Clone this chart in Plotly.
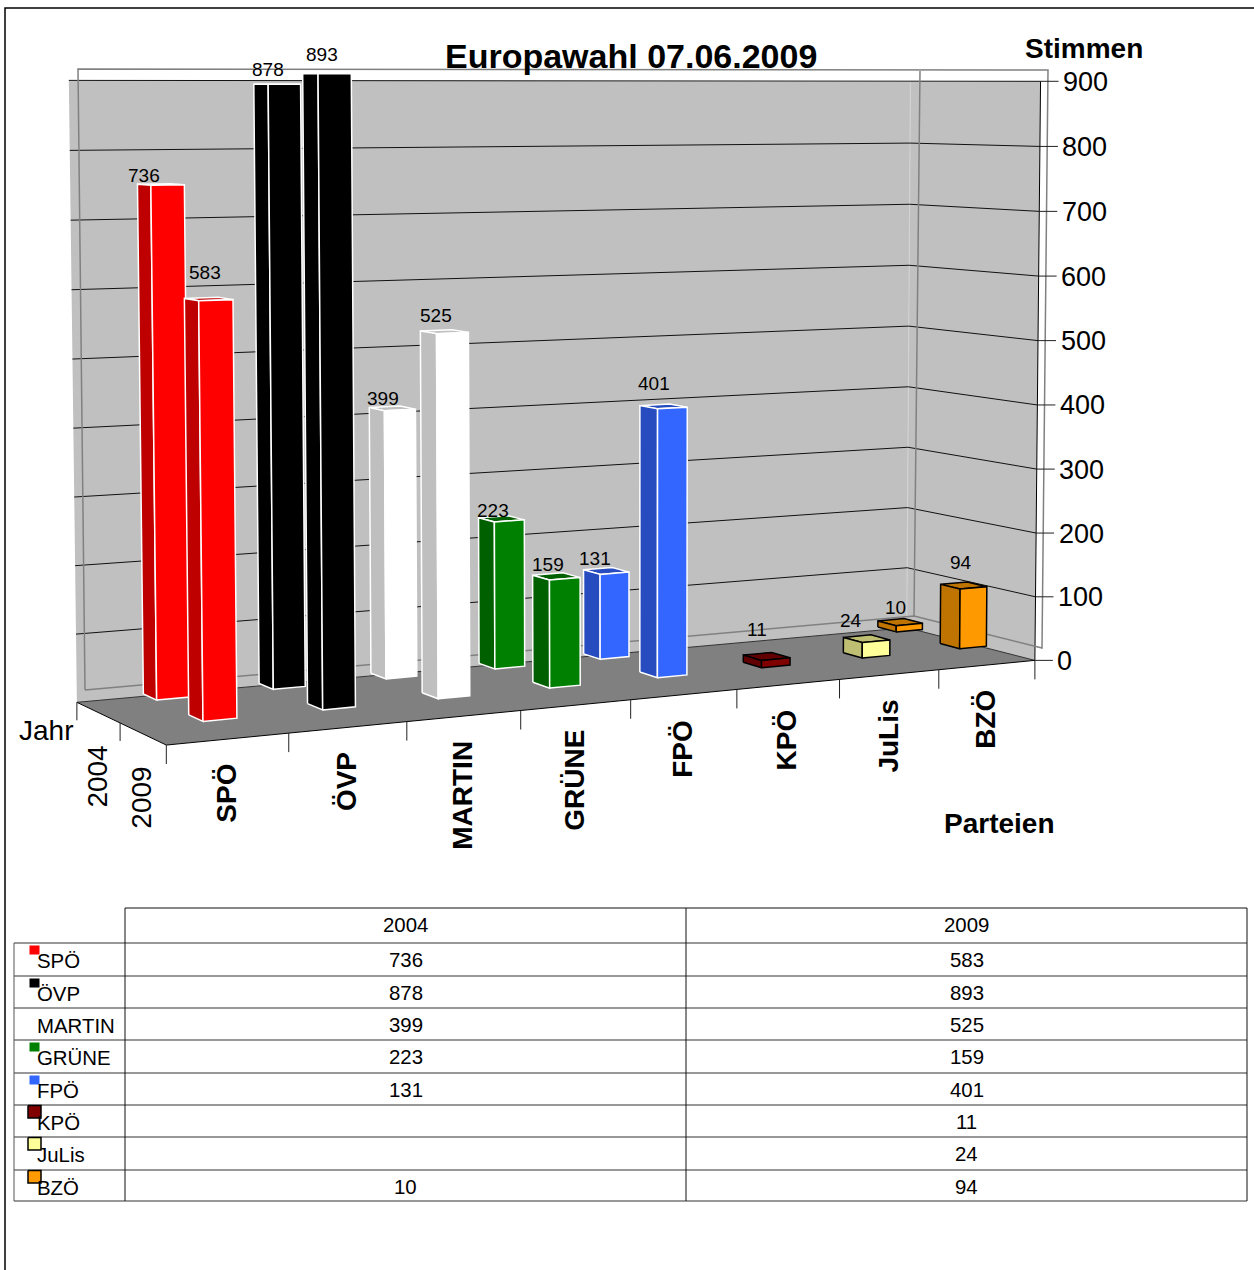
import numpy as np
import plotly.graph_objects as go

# ---- data ----
PARTIES = ["SPÖ", "ÖVP", "MARTIN", "GRÜNE", "FPÖ", "KPÖ", "JuLis", "BZÖ"]
YEARS = ["2004", "2009"]
VOTES_2004 = [736, 878, 399, 223, 131, None, None, 10]
VOTES_2009 = [583, 893, 525, 159, 401, 11, 24, 94]
VALUE_TICKS = [0, 100, 200, 300, 400, 500, 600, 700, 800, 900]
FRONT_COLORS = ["#FF0000", "#000000", "#FFFFFF", "#008000", "#3366FF", "#800000", "#FFFF99", "#FF9900"]
SIDE_COLORS = ["#BF0000", "#000000", "#BFBFBF", "#006000", "#264CBF", "#600000", "#BFBF73", "#BF7300"]
EDGE_COLORS = ["#FFFFFF"] * 5 + ["#000000"] * 3

TITLE = "Europawahl 07.06.2009"
FONT = "Liberation Sans"

# ---- projection of the chart box on the page (perspective camera) ----
CALIB_WORLD = [(0, 0, 0), (0, 0, 900), (8, 0, 0), (8, 0, 900), (0, 2, 0), (8, 2, 0), (8, 2, 900),
               (1, 2, 0), (2, 2, 0), (3, 2, 0), (4, 2, 0), (5, 2, 0), (6, 2, 0), (7, 2, 0),
               (0, 0, 800), (0, 0, 600), (0, 0, 400), (0, 0, 200), (8, 0, 600), (8, 0, 100), (8, 2, 500)]
CALIB_PAGE = [(77, 703), (69, 81), (908, 627), (911, 82), (167, 745), (1035, 660), (1041, 81),
              (289, 733), (407, 722), (520, 711), (631, 700), (737, 689.5), (839, 679.5), (938, 670),
              (70, 150), (71, 290), (73, 427), (75, 565), (908, 266), (907, 568), (1038, 340)]
A, b = [], []
for (X, Y, Z), (u, v) in zip(CALIB_WORLD, CALIB_PAGE):
    w = [X, Y, Z / 100.0, 1.0]
    A.append(w + [0, 0, 0, 0] + [-u * c for c in w[:3]])
    b.append(u)
    A.append([0, 0, 0, 0] + w + [-v * c for c in w[:3]])
    b.append(v)
P = np.linalg.lstsq(np.array(A, float), np.array(b, float), rcond=None)[0]
P = np.append(P, 1.0).reshape(3, 4)


def proj(X, Y, Z):
    h = P @ np.array([X, Y, Z / 100.0, 1.0])
    return float(h[0] / h[2]), float(h[1] / h[2])


# bars sit a little off the floor grid on the page
BAR_SHIFT = (9.0, -11.5)


def bar_proj(X, Y, Z):
    x, y = proj(X, Y, Z)
    return x + BAR_SHIFT[0], y + BAR_SHIFT[1]


fig = go.Figure()


def poly(points, fill=None, line="#000000", width=1.0):
    xs = [p[0] for p in points]
    ys = [p[1] for p in points]
    kw = {}
    if fill:
        kw = dict(fill="toself", fillcolor=fill)
        xs.append(xs[0])
        ys.append(ys[0])
    fig.add_trace(go.Scatter(x=xs, y=ys, mode="lines", hoverinfo="skip", showlegend=False,
                             line=dict(color=line if line else "rgba(0,0,0,0)", width=width), **kw))


def text(x, y, s, size, bold=False, angle=0, xa="center", ya="middle", color="#000000"):
    fig.add_annotation(x=x, y=y, xref="x", yref="y", text=f"<b>{s}</b>" if bold else s, showarrow=False,
                       textangle=angle, xanchor=xa, yanchor=ya, borderpad=0,
                       font=dict(family=FONT, size=size, color=color))


# walls and floor
poly([proj(0, 0, 0), proj(0, 0, 900), proj(8, 0, 900), proj(8, 0, 0)], fill="#C0C0C0", line=None)
poly([proj(8, 0, 0), proj(8, 0, 900), proj(8, 2, 900), proj(8, 2, 0)], fill="#C0C0C0", line=None)
poly([proj(8, 0, 0), proj(8, 0, 900)], line="#D4D4D4", width=1.0)
poly([proj(0, 0, 0), proj(8, 0, 0), proj(8, 2, 0), proj(0, 2, 0)], fill="#808080", line=None)

# gridlines
for z in VALUE_TICKS:
    poly([proj(0, 0, z), proj(8, 0, z), proj(8, 2, z)], width=1.0, line="#111111" if z else "#333333")
poly([proj(8, 2, 900), proj(8, 2, 0)], width=1.0)
poly([proj(0, 2, 0), proj(8, 2, 0)], width=1.0)
poly([proj(0, 0, 0), proj(0, 2, 0)], width=1.0)

# grey frame lying over the walls
FRAME_TOP = [(85, 690), (78, 69), (1048, 70), (1042, 648), (914, 616), (85, 690)]
FRAME_MID = [(920, 71), (914, 616)]
poly(FRAME_TOP, line="#808080", width=1.5)
poly(FRAME_MID, line="#808080", width=1.5)

# axis ticks
for i in range(len(PARTIES) + 1):
    x, y = proj(i, 2, 0)
    poly([(x, y), (x, y + 19)], line="#222222", width=1.0)
for d in range(len(YEARS)):
    x, y = proj(0, d, 0)
    poly([(x, y), (x, y + 18)], line="#222222", width=1.0)
for z in VALUE_TICKS:
    x, y = proj(8, 2, z)
    poly([(x, y), (x + 18, y)], line="#222222", width=1.0)
    text(x + 21.5, y + 0.5, str(z), 27, xa="left")

# bars
BAR_W = 0.28
BAR_D = 0.30
LABEL_BASE = (-8, -15)
LABEL_NUDGE = {
    (0, 0): (-9, 6.5), (0, 1): (-1, 0), (0, 2): (-1, 5.5), (0, 3): (0, 6.5), (0, 4): (-3, 2.5), (0, 7): (3, 0),
    (1, 0): (4, -11.5), (1, 1): (3, -4.5), (1, 2): (0, -1.5), (1, 3): (0, 3.5), (1, 4): (-2, -7.5),
    (1, 5): (-2, -11.5), (1, 6): (-8, -3.5), (1, 7): (5, -8.5),
}
for d, series in enumerate([VOTES_2004, VOTES_2009]):
    for i, val in enumerate(series):
        if val is None:
            continue
        x0, x1 = i + 0.5 - BAR_W / 2, i + 0.5 + BAR_W / 2
        y0, y1 = d + 0.5 - BAR_D / 2, d + 0.5 + BAR_D / 2
        edge = EDGE_COLORS[i]
        poly([bar_proj(x0, y0, val), bar_proj(x1, y0, val), bar_proj(x1, y1, val), bar_proj(x0, y1, val)],
             fill=SIDE_COLORS[i], line=edge, width=1.5)
        poly([bar_proj(x0, y0, 0), bar_proj(x0, y0, val), bar_proj(x0, y1, val), bar_proj(x0, y1, 0)],
             fill=SIDE_COLORS[i], line=edge, width=1.5)
        poly([bar_proj(x0, y1, 0), bar_proj(x0, y1, val), bar_proj(x1, y1, val), bar_proj(x1, y1, 0)],
             fill=FRONT_COLORS[i], line=edge, width=1.5)
        lx, ly = bar_proj(i + 0.5, d + 0.5, val)
        nx, ny = LABEL_NUDGE[(d, i)]
        text(lx + LABEL_BASE[0] + nx, ly + LABEL_BASE[1] + ny, str(val), 19)

# axis labels
for i, name in enumerate(PARTIES):
    x, y = proj(i + 0.5, 2, 0)
    text(x - 2, y + 24, name, 28, bold=True, angle=-90, ya="top")
for d, yr in enumerate(YEARS):
    x, y = proj(0, d + 0.5, 0)
    text(x - 1, y + 32, yr, 28, angle=-90, ya="top")
text(45.5, 730, "Jahr", 28)
text(999.5, 823, "Parteien", 28, bold=True)
text(1084, 48, "Stimmen", 28, bold=True)
text(630.5, 56, TITLE, 34, bold=True)

# page border
poly([(5, 1270), (5, 8), (1254, 8)], width=1.5)

# data table
ROW_LINES = [943, 976, 1008, 1040, 1073, 1105, 1137, 1170, 1201]
COL_X = [14, 125, 686, 1247]
poly([(COL_X[1], 908), (COL_X[3], 908)], line="#111111")
for y in ROW_LINES:
    poly([(COL_X[0], y), (COL_X[3], y)], line="#333333", width=1.2)
poly([(COL_X[0], ROW_LINES[0]), (COL_X[0], ROW_LINES[-1])], line="#555555")
for x in COL_X[1:]:
    poly([(x, 908), (x, ROW_LINES[-1])], line="#111111")
for j, yr in enumerate(YEARS):
    text((COL_X[j + 1] + COL_X[j + 2]) / 2, 925, yr, 20.4)
for r, name in enumerate(PARTIES):
    top = ROW_LINES[r]
    text(35.8, top + 18.3, name, 20.4, xa="left")
    for j, series in enumerate([VOTES_2004, VOTES_2009]):
        if series[r] is not None:
            text((COL_X[j + 1] + COL_X[j + 2]) / 2, top + 16.7, str(series[r]), 20.4)
    if EDGE_COLORS[r] == "#000000":
        key = [(28, top + 0.5), (41, top + 0.5), (41, top + 13), (28, top + 13)]
        poly(key, fill=FRONT_COLORS[r], line="#000000", width=1.5)
    else:
        key = [(29, top + 2), (40, top + 2), (40, top + 12), (29, top + 12)]
        poly(key, fill=FRONT_COLORS[r], line="#FFFFFF", width=1.0)

fig.update_layout(
    width=1254, height=1270, margin=dict(l=0, r=0, t=0, b=0),
    paper_bgcolor="#FFFFFF", plot_bgcolor="#FFFFFF", showlegend=False,
    xaxis=dict(range=[0, 1254], visible=False, fixedrange=True),
    yaxis=dict(range=[1270, 0], visible=False, fixedrange=True),
)
fig.write_html("out.html", config={"displayModeBar": False},
               post_script="document.body.style.margin='0';document.documentElement.style.overflow='hidden';")
